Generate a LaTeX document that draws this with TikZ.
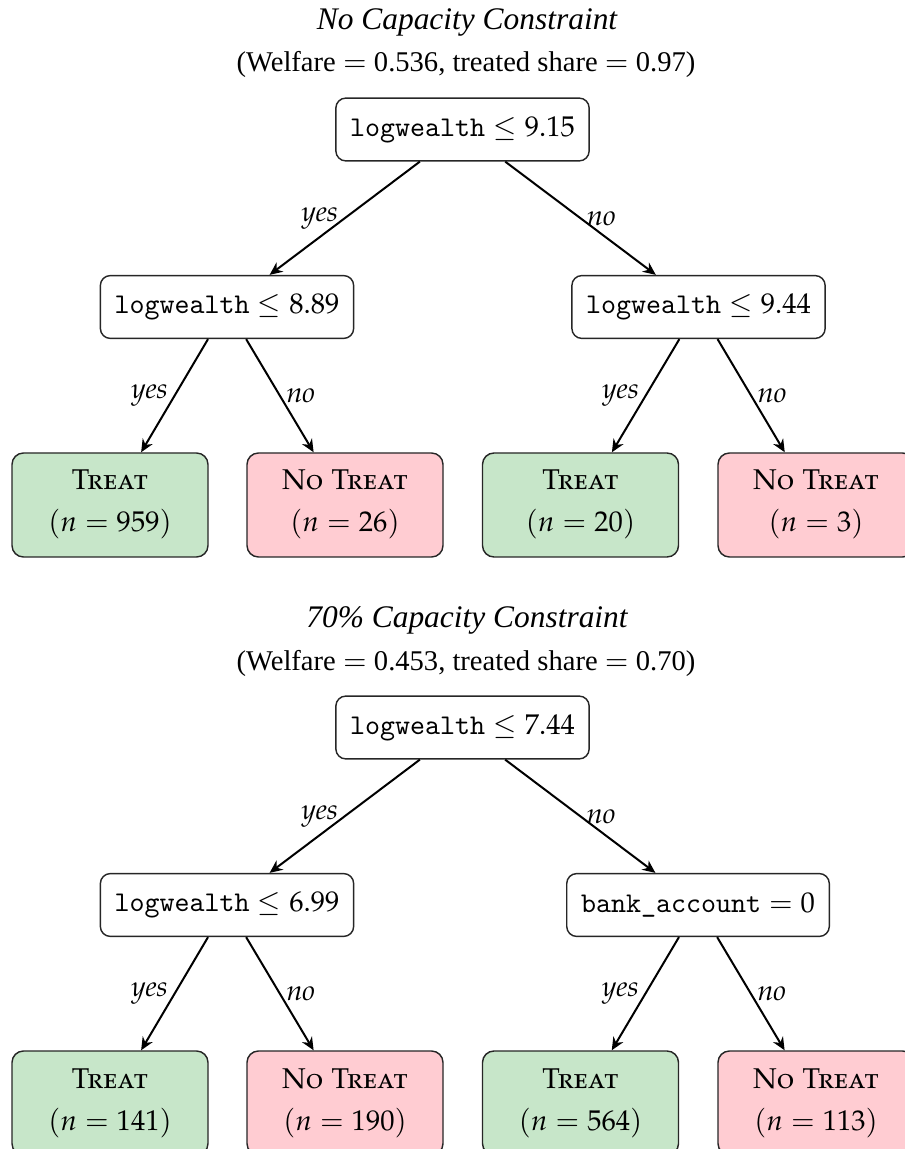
\documentclass[tikz,border=0pt]{standalone}
\usepackage[no-math]{fontspec}
\usepackage[T1]{fontenc}
\usepackage{mathpazo}
\newfontfamily\timesf{Liberation Serif}
\newfontfamily\monof{Latin Modern Mono}
\usetikzlibrary{arrows.meta}
\definecolor{leafgreen}{RGB}{199,230,201}
\definecolor{leafpink}{RGB}{255,204,210}
\newcommand{\var}[1]{\mbox{\monof #1}}
\tikzset{
  decision/.style={draw=black!85, line width=0.5pt, rounded corners=3.5pt, fill=white,
    minimum height=22pt, inner xsep=5pt, font=\fontencoding{T1}\fontfamily{pplx}\selectfont},
  leaf/.style={draw=black!85, line width=0.5pt, rounded corners=4pt, align=center,
    minimum width=68.6pt, minimum height=36.4pt, inner sep=0pt,
    font=\fontencoding{T1}\fontfamily{pplx}\selectfont},
  treatleaf/.style={leaf, fill=leafgreen},
  notreatleaf/.style={leaf, fill=leafpink},
  branch/.style={-{Stealth[length=4.5pt,width=4pt]}, line width=0.7pt},
  lab/.style={font=\fontencoding{T1}\fontfamily{pplx}\selectfont\itshape, inner sep=2pt, midway},
  ttitle/.style={font=\timesf\itshape\fontsize{11pt}{13pt}\selectfont, anchor=base},
  tsub/.style={font=\timesf, anchor=base}
}
\begin{document}
\begin{tikzpicture}[x=0.35pt, y=-0.35pt]
\useasboundingbox (0,0) rectangle (904,1149);

% ---------- Tree 1 ----------
\node[ttitle] (t1) at (467,30) {No Capacity Constraint};
\node[tsub] (s1) at (466,72) {(Welfare $=$ 0.536, treated share $=$ 0.97)};

\node[decision] (a0) at (462.5,129.5) {$\var{logwealth} \leq 9.15$};
\node[decision] (a1) at (227,307) {$\var{logwealth} \leq 8.89$};
\node[decision] (a2) at (698.5,307) {$\var{logwealth} \leq 9.44$};
\node[treatleaf] (a11) at (110,505) {\textsc{Treat}\\[2.7pt]$(n = 959)$};
\node[notreatleaf] (a12) at (345,505) {\textsc{No Treat}\\[2.7pt]$(n = 26)$};
\node[treatleaf] (a21) at (580.5,505) {\textsc{Treat}\\[2.7pt]$(n = 20)$};
\node[notreatleaf] (a22) at (816,505) {\textsc{No Treat}\\[2.7pt]$(n = 3)$};

\draw[branch] (a0) -- node[lab, left] {yes} (a1);
\draw[branch] (a0) -- node[lab, right] {no} (a2);
\draw[branch] (a1) -- node[lab, left] {yes} (a11);
\draw[branch] (a1) -- node[lab, right] {no} (a12);
\draw[branch] (a2) -- node[lab, left] {yes} (a21);
\draw[branch] (a2) -- node[lab, right] {no} (a22);

% ---------- Tree 2 ----------
\node[ttitle] (t2) at (467,628) {70\% Capacity Constraint};
\node[tsub] (s2) at (466,670) {(Welfare $=$ 0.453, treated share $=$ 0.70)};

\node[decision] (b0) at (462.5,727.5) {$\var{logwealth} \leq 7.44$};
\node[decision] (b1) at (227,905) {$\var{logwealth} \leq 6.99$};
\node[decision] (b2) at (698,905) {$\var{bank\_account} = 0$};
\node[treatleaf] (b11) at (110,1103) {\textsc{Treat}\\[2.7pt]$(n = 141)$};
\node[notreatleaf] (b12) at (345,1103) {\textsc{No Treat}\\[2.7pt]$(n = 190)$};
\node[treatleaf] (b21) at (580.5,1103) {\textsc{Treat}\\[2.7pt]$(n = 564)$};
\node[notreatleaf] (b22) at (816,1103) {\textsc{No Treat}\\[2.7pt]$(n = 113)$};

\draw[branch] (b0) -- node[lab, left] {yes} (b1);
\draw[branch] (b0) -- node[lab, right] {no} (b2);
\draw[branch] (b1) -- node[lab, left] {yes} (b11);
\draw[branch] (b1) -- node[lab, right] {no} (b12);
\draw[branch] (b2) -- node[lab, left] {yes} (b21);
\draw[branch] (b2) -- node[lab, right] {no} (b22);
\end{tikzpicture}
\end{document}
